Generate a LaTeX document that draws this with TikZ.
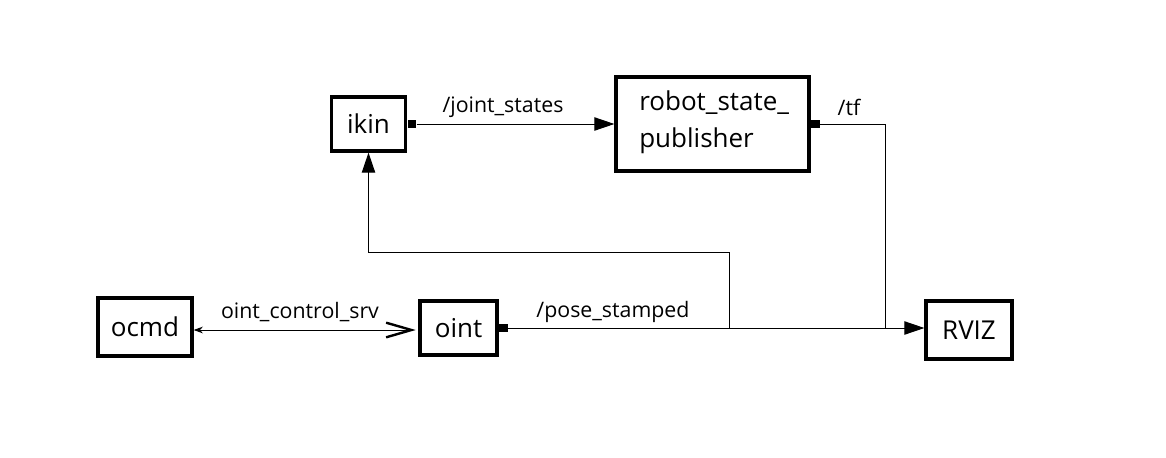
\documentclass[tikz,border=0pt]{standalone}
\usepackage{fontspec}
\setmainfont{Open Sans}
\usetikzlibrary{arrows.meta}
\begin{document}
\begin{tikzpicture}[x=0.75pt,y=-0.75pt,
  blk/.style={draw,line width=2.4pt,inner sep=0pt,font=\fontsize{19.5}{24}\selectfont},
  conn/.style={line width=0.75pt},
  lbl/.style={font=\fontsize{16}{19}\selectfont,inner sep=0pt},
  tip/.style={-{Triangle[length=15pt,width=10pt]}},
  sqmark/.style={fill,inner sep=0pt,minimum size=6.5pt,anchor=west}]
\useasboundingbox (0,0) rectangle (1166,457);
\node[blk,minimum width=56pt,minimum height=40.5pt] (ikin) at (368.5,124) {ikin};
\node[blk,minimum width=144.75pt,minimum height=70.5pt] (rsp) at (712.5,124) {};
\node[font=\fontsize{19.5}{24}\selectfont,anchor=west,align=left,inner sep=0pt] (rsptext) at (639,122) {robot\_state\_\\[4pt]publisher};
\node[blk,minimum width=70.5pt,minimum height=43.5pt] (ocmd) at (145,327) {ocmd};
\node[blk,minimum width=57.75pt,minimum height=40.5pt] (oint) at (458.5,328) {oint};
\node[blk,minimum width=64.5pt,minimum height=43.5pt] (rviz) at (969,330) {RVIZ};
\node[sqmark] (m1) at (ikin.east) {};
\node[sqmark] (m2) at (rsp.east) {};
\node[sqmark] (m3) at (oint.east) {};
\coordinate (tfc) at (885,124);
\coordinate (tfd) at (885,328);
\coordinate (br) at (729,328);
\coordinate (brup) at (729,252);
\coordinate (ikl) at (368.5,252);
\draw[conn,tip] (m1.east) -- (rsp.west);
\node[lbl] (js) at (503,107) {/joint\_states};
\draw[conn] (m2.east) -- (tfc) -- (tfd);
\node[lbl] (tf) at (849,107) {/tf};
\draw[conn,tip] (m3.east) -- (m3.east -| rviz.west);
\node[lbl] (ps) at (613,312) {/pose\_stamped};
\draw[conn,tip] (br) -- (brup) -- (ikl) -- (ikin.south);
\draw[conn,{Stealth[length=7pt,width=5pt]}-{Straight Barb[length=19pt,width=11pt,line width=1.8pt]}] (ocmd.east |- 0,330) -- ([xshift=-2pt]oint.west |- 0,330);
\node[lbl] (ocs) at (300,312) {oint\_control\_srv};
\end{tikzpicture}
\end{document}
